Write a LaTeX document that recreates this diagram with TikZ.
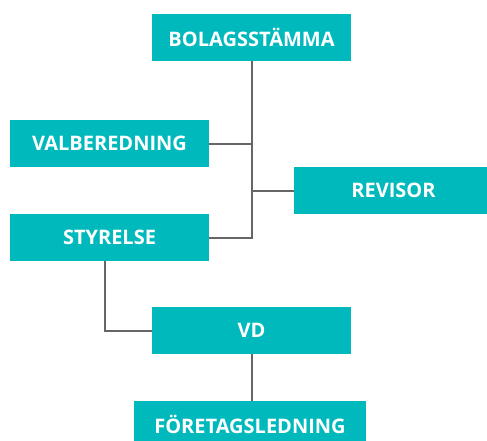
\documentclass[tikz,border=0pt]{standalone}
\usepackage{fontspec}
\setsansfont{Open Sans}
\definecolor{teal}{HTML}{00B9BC}
\definecolor{linegray}{HTML}{666666}
\tikzset{
    box/.style={fill=teal, text=white, font=\sffamily\bfseries\fontsize{20}{24}\selectfont, rectangle, minimum width=199pt, minimum height=47pt, inner sep=0pt, align=center},
    link/.style={draw=linegray, line width=2pt}
}
\begin{document}
\begin{tikzpicture}[x=1pt, y=-1pt]
        % Ram
        \useasboundingbox (0, 0) rectangle (487, 441);
        \clip (0, 0) rectangle (487, 441);

        % Bolagsstamma
        \node[box] at (251.5, 37.5) (bolag) {BOLAGSSTÄMMA};

        % Valberedning
        \node[box] at (109.5, 143.5) (valb) {VALBEREDNING};

        % Revisor
        \node[box] at (393.5, 190.5) (revisor) {REVISOR};

        % Styrelse
        \node[box] at (109.5, 237.5) (styrelse) {STYRELSE};

        % VD
        \node[box] at (251.5, 330.5) (vd) {VD};

        % Foretagsledning
        \node[box, minimum width=232pt] at (250, 424.5) (ledning) {FÖRETAGSLEDNING};

        % Knut
        \coordinate (knee) at (105, 330.5);

        % Linjer
        \draw[link] (bolag.south) -- (bolag.south |- styrelse.east) -- (styrelse.east);
        \draw[link] (valb.east) -- (valb.east -| bolag.south);
        \draw[link] (revisor.west) -- (revisor.west -| bolag.south);
        \draw[link] (styrelse.south -| knee) -- (knee) -- (vd.west);
        \draw[link] (vd.south) -- (vd.south |- ledning.north);
    \end{tikzpicture}
\end{document}
